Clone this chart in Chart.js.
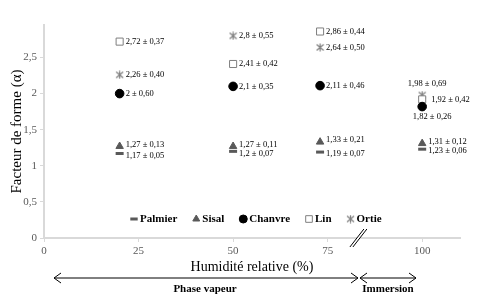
<!DOCTYPE html>
<html>
<head>
<meta charset="utf-8">
<script src="https://cdn.jsdelivr.net/npm/chart.js@4/dist/chart.umd.min.js"></script>
<style>
  html, body { margin: 0; padding: 0; background: #fff; }
  #wrap { width: 480px; height: 307px; }
</style>
</head>
<body>
<div id="wrap"><canvas id="chart"></canvas></div>
<script>
// humidité relative (%) des mesures
const humidite = [20, 50, 73, 100]
const xTicks = [0, 25, 50, 75, 100]
const yTicks = [0, 0.5, 1, 1.5, 2, 2.5]

const fibres = ['Palmier', 'Sisal', 'Chanvre', 'Lin', 'Ortie']
const palmier = [1.17, 1.2, 1.19, 1.23]
const sisal = [1.27, 1.27, 1.33, 1.31]
const chanvre = [2, 2.1, 2.11, 1.82]
const lin = [2.72, 2.41, 2.86, 1.92]
const ortie = [2.26, 2.8, 2.64, 1.98]

// écarts-types
const ecartPalmier = [0.05, 0.07, 0.07, 0.06]
const ecartSisal = [0.13, 0.11, 0.21, 0.12]
const ecartChanvre = [0.60, 0.35, 0.46, 0.26]
const ecartLin = [0.37, 0.42, 0.44, 0.42]
const ecartOrtie = [0.40, 0.55, 0.50, 0.69]

const serif = '"Liberation Serif", "Times New Roman", serif'

const fmt = v => String(v).replace('.', ',')
const fmt2 = v => v.toFixed(2).replace('.', ',')

// marqueur étoile façon Excel (trait vertical + deux diagonales)
const makeStar = (size, color) => {
    const c = document.createElement('canvas')
    c.width = size; c.height = size
    const g = c.getContext('2d')
    g.strokeStyle = color
    g.lineWidth = 1.2
    const m = size / 2
    g.beginPath()
    g.moveTo(m, 0.5); g.lineTo(m, size - 0.5)
    g.moveTo(1, 1.5); g.lineTo(size - 1, size - 1.5)
    g.moveTo(size - 1, 1.5); g.lineTo(1, size - 1.5)
    g.stroke()
    return c
}
const starImg = makeStar(9, '#7f7f7f')

const styles = [
    { pointStyle: 'line', radius: 4, borderWidth: 3, borderColor: '#595959', backgroundColor: '#595959' },
    { pointStyle: 'triangle', radius: 4.3, borderWidth: 1, borderColor: '#595959', backgroundColor: '#595959' },
    { pointStyle: 'circle', radius: 4.3, borderWidth: 1, borderColor: '#000', backgroundColor: '#000' },
    { pointStyle: 'rect', radius: 5, borderWidth: 1, borderColor: '#7f7f7f', backgroundColor: '#fff' },
    { pointStyle: starImg, radius: 4.5, borderWidth: 1, borderColor: '#7f7f7f', backgroundColor: '#7f7f7f' },
]
const series = [palmier, sisal, chanvre, lin, ortie]
const ecarts = [ecartPalmier, ecartSisal, ecartChanvre, ecartLin, ecartOrtie]

const datasets = fibres.map((nom, i) => ({
    label: nom,
    data: humidite.map((h, j) => ({ x: h, y: series[i][j] })),
    ecart: ecarts[i],
    showLine: false,
    pointStyle: styles[i].pointStyle,
    pointRadius: styles[i].radius,
    pointHoverRadius: styles[i].radius,
    pointBorderWidth: styles[i].borderWidth,
    pointBorderColor: styles[i].borderColor,
    pointBackgroundColor: styles[i].backgroundColor,
    borderColor: styles[i].borderColor,
    backgroundColor: styles[i].backgroundColor,
}))

// texte "valeur ± écart" à côté de chaque point
const labelPlugin = {
    id: 'labels',
    afterDatasetsDraw(chart) {
        const ctx = chart.ctx
        ctx.save()
        ctx.font = '8.5px ' + serif
        ctx.fillStyle = '#000'
        ctx.textBaseline = 'middle'
        chart.data.datasets.forEach((ds, i) => {
            const meta = chart.getDatasetMeta(i)
            meta.data.forEach((pt, j) => {
                const txt = fmt(ds.data[j].y) + ' \u00b1 ' + fmt2(ds.ecart[j])
                let x = pt.x + 6, y = pt.y, align = 'left'
                if (i === 0) y += 2
                if (i === 1) y -= 2
                if (ds.data[j].x === 100) {
                    if (i === 4) { x = pt.x + 5; y = pt.y - 11; align = 'center' }
                    if (i === 2) { x = pt.x + 10; y = pt.y + 10; align = 'center' }
                    if (i === 3) { x = pt.x + 9 }
                }
                ctx.textAlign = align
                ctx.fillText(txt, x, y)
            })
        })
        ctx.restore()
    }
}

// légende, titres, flèches et coupure d'axe
const decorPlugin = {
    id: 'decor',
    afterDraw(chart) {
        const ctx = chart.ctx
        const area = chart.chartArea
        const xs = chart.scales.x
        ctx.save()

        // légende dans la zone du graphique
        ctx.font = 'bold 11px ' + serif
        ctx.textBaseline = 'middle'
        ctx.textAlign = 'left'
        const ly = 219
        let lx = 134
        chart.data.datasets.forEach((ds, i) => {
            const st = styles[i]
            ctx.fillStyle = st.backgroundColor
            ctx.strokeStyle = st.borderColor
            ctx.lineWidth = st.borderWidth
            Chart.helpers.drawPoint(ctx, {
                pointStyle: st.pointStyle, radius: st.radius - 0.3, borderWidth: st.borderWidth, rotation: 0
            }, lx, ly)
            ctx.fillStyle = '#000'
            ctx.fillText(ds.label, lx + 6, ly)
            lx += 6 + ctx.measureText(ds.label).width + 19
        })

        // titre axe Y
        ctx.fillStyle = '#000'
        ctx.font = '15px ' + serif
        ctx.textAlign = 'center'
        ctx.translate(17, (area.top + area.bottom) / 2)
        ctx.rotate(-Math.PI / 2)
        ctx.fillText('Facteur de forme (\u03b1)', 0, 0)
        ctx.setTransform(1, 0, 0, 1, 0, 0)

        // titre axe X
        ctx.font = '14px ' + serif
        ctx.fillText('Humidit\u00e9 relative (%)', 252, 267)

        // flèches
        const ay = 278
        const arrow = (x1, x2) => {
            ctx.strokeStyle = '#000'
            ctx.lineWidth = 1
            ctx.beginPath()
            ctx.moveTo(x1, ay); ctx.lineTo(x2, ay)
            ctx.moveTo(x1 + 7, ay - 5); ctx.lineTo(x1, ay); ctx.lineTo(x1 + 7, ay + 5)
            ctx.moveTo(x2 - 7, ay - 5); ctx.lineTo(x2, ay); ctx.lineTo(x2 - 7, ay + 5)
            ctx.stroke()
        }
        arrow(54, 358)
        arrow(360, 416)
        ctx.font = 'bold 11px ' + serif
        ctx.fillText('Phase vapeur', 205, 289)
        ctx.fillText('Immersion', 388, 289)

        // coupure de l'axe X
        const bx = xs.getPixelForValue(83), by = area.bottom
        ctx.fillStyle = '#fff'
        ctx.beginPath()
        ctx.moveTo(bx - 8, by + 9); ctx.lineTo(bx + 6, by - 9)
        ctx.lineTo(bx + 9, by - 9); ctx.lineTo(bx - 5, by + 9)
        ctx.closePath()
        ctx.fill()
        ctx.strokeStyle = '#000'
        ctx.lineWidth = 1
        ctx.beginPath()
        ctx.moveTo(bx - 8, by + 9); ctx.lineTo(bx + 6, by - 9)
        ctx.moveTo(bx - 5, by + 9); ctx.lineTo(bx + 9, by - 9)
        ctx.stroke()
        ctx.restore()
    }
}

new Chart(document.getElementById('chart'), {
    type: 'scatter',
    data: { datasets },
    options: {
        responsive: true,
        maintainAspectRatio: false,
        animation: false,
        layout: { padding: { top: 25, right: 20, left: 0, bottom: 0 } },
        plugins: { legend: { display: false }, tooltip: { enabled: false } },
        scales: {
            x: {
                type: 'linear',
                min: 0,
                max: 110,
                afterBuildTicks: scale => { scale.ticks = xTicks.map(v => ({ value: v })) },
                afterFit: scale => { scale.height = 69 },
                border: { color: '#d9d9d9', width: 2 },
                grid: { drawOnChartArea: false, drawTicks: true, tickLength: 4, color: '#d9d9d9' },
                ticks: { color: '#595959', font: { family: serif, size: 11 }, padding: 3, callback: v => fmt(v) },
            },
            y: {
                min: 0,
                max: 2.95,
                afterBuildTicks: scale => { scale.ticks = yTicks.map(v => ({ value: v })) },
                afterFit: scale => { scale.width = 44 },
                border: { color: '#d9d9d9', width: 2 },
                grid: { drawOnChartArea: false, drawTicks: true, tickLength: 4, color: '#d9d9d9' },
                ticks: { color: '#595959', font: { family: serif, size: 11 }, padding: 3, callback: v => fmt(v) },
            }
        }
    },
    plugins: [labelPlugin, decorPlugin]
})
</script>
</body>
</html>
